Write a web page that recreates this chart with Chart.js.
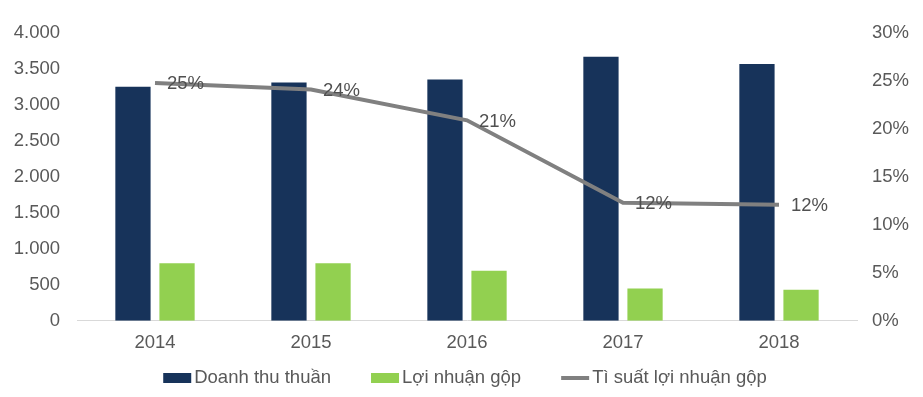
<!DOCTYPE html>
<html>
<head>
<meta charset="utf-8">
<script src="https://cdn.jsdelivr.net/npm/chart.js@4/dist/chart.umd.min.js"></script>
<style>
  html, body { margin: 0; padding: 0; background: #ffffff; }
  #wrap { width: 923px; height: 397px; position: relative; }
</style>
</head>
<body>
<div id="wrap"><canvas id="chart"></canvas></div>
<script>
// Data
const years = ['2014', '2015', '2016', '2017', '2018'];
const doanhThu = [3252, 3313, 3355, 3670, 3568];
const loiNhuan = [799, 799, 697, 450, 432];
const tiSuat = [24.8, 24.1, 20.9, 12.3, 12.1];
const tiSuatLabels = ['25%', '24%', '21%', '12%', '12%'];
const leftTicks = ['0', '500', '1.000', '1.500', '2.000', '2.500', '3.000', '3.500', '4.000'];
const rightTicks = ['0%', '5%', '10%', '15%', '20%', '25%', '30%'];

const FONT = 'Liberation Sans, Arial, sans-serif';
const SIZE = 18.5;
const tickFont = { family: FONT, size: SIZE };

// Text labels to the right of each line point
const lineLabels = {
  id: 'lineLabels',
  afterDatasetsDraw(chart) {
    const meta = chart.getDatasetMeta(2);
    const ctx = chart.ctx;
    ctx.save();
    ctx.font = SIZE + 'px ' + FONT;
    ctx.fillStyle = '#505050';
    ctx.textAlign = 'left';
    ctx.textBaseline = 'middle';
    meta.data.forEach((pt, i) => {
      ctx.fillText(tiSuatLabels[i], pt.x + 12, pt.y + 1.5);
    });
    ctx.restore();
  }
};

// Legend drawn under the axis, Excel style
const bottomLegend = {
  id: 'bottomLegend',
  afterDraw(chart) {
    const ctx = chart.ctx;
    const y = 378;
    const boxW = 28, boxH = 10, gap = 3, spacing = 40;
    ctx.save();
    ctx.font = SIZE + 'px ' + FONT;
    ctx.textBaseline = 'middle';
    ctx.textAlign = 'left';
    const ds = chart.data.datasets;
    let total = 0;
    ds.forEach((d, i) => {
      total += boxW + gap + ctx.measureText(d.label).width + (i < ds.length - 1 ? spacing : 0);
    });
    let x = 465 - total / 2;
    ds.forEach((d) => {
      if (d.type === 'line') {
        ctx.strokeStyle = d.borderColor;
        ctx.lineWidth = 4;
        ctx.beginPath();
        ctx.moveTo(x, y);
        ctx.lineTo(x + boxW, y);
        ctx.stroke();
      } else {
        ctx.fillStyle = d.backgroundColor;
        ctx.fillRect(x, y - boxH / 2, boxW, boxH);
      }
      x += boxW + gap;
      ctx.fillStyle = '#595959';
      ctx.fillText(d.label, x, y);
      x += ctx.measureText(d.label).width + spacing;
    });
    ctx.restore();
  }
};

new Chart(document.getElementById('chart'), {
  type: 'bar',
  data: {
    labels: years,
    datasets: [
      {
        label: 'Doanh thu thuần',
        data: doanhThu,
        backgroundColor: '#17335a',
        yAxisID: 'y',
        order: 1,
        categoryPercentage: 0.565,
        barPercentage: 0.8
      },
      {
        label: 'Lợi nhuận gộp',
        data: loiNhuan,
        backgroundColor: '#92d050',
        yAxisID: 'y',
        order: 1,
        categoryPercentage: 0.565,
        barPercentage: 0.8
      },
      {
        type: 'line',
        label: 'Tì suất lợi nhuận gộp',
        data: tiSuat,
        borderColor: '#808080',
        backgroundColor: '#808080',
        borderWidth: 4,
        pointRadius: 0,
        tension: 0,
        yAxisID: 'y1',
        order: 0
      }
    ]
  },
  options: {
    responsive: true,
    maintainAspectRatio: false,
    animation: false,
    layout: { padding: { top: 33, left: 0, right: 0, bottom: 32 } },
    scales: {
      x: {
        grid: { display: false, drawTicks: false },
        border: { display: true, color: '#d9d9d9', width: 1 },
        ticks: { color: '#595959', font: tickFont, padding: 11 }
      },
      y: {
        position: 'left',
        min: 0,
        max: 4000,
        grid: { display: false, drawTicks: false },
        border: { display: false },
        ticks: {
          stepSize: 500,
          color: '#595959',
          font: tickFont,
          padding: 17,
          callback: (v, i) => leftTicks[i]
        },
        afterFit: (scale) => { scale.width = 77; }
      },
      y1: {
        position: 'right',
        min: 0,
        max: 30,
        grid: { display: false, drawTicks: false },
        border: { display: false },
        ticks: {
          stepSize: 5,
          color: '#595959',
          font: tickFont,
          padding: 15,
          callback: (v, i) => rightTicks[i]
        },
        afterFit: (scale) => { scale.width = 66; }
      }
    },
    plugins: {
      tooltip: { enabled: false },
      legend: { display: false }
    }
  },
  plugins: [lineLabels, bottomLegend]
});
</script>
</body>
</html>
